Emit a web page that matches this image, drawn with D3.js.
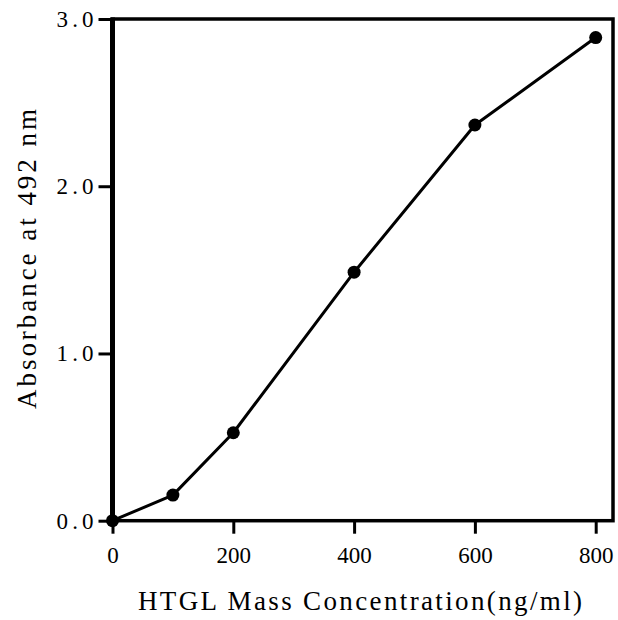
<!DOCTYPE html>
<html>
<head>
<meta charset="utf-8">
<script src="https://cdn.jsdelivr.net/npm/d3@7"></script>
<style>
  body { margin: 0; background: #fff; }
  text { font-family: "Liberation Serif", serif; fill: #000; }
</style>
</head>
<body>
<script>
"use strict";

// data
var conc = [0, 100, 200, 400, 600, 800];
var absorbance = [0.0, 0.153, 0.526, 1.486, 2.366, 2.889];
var xTicks = [0, 200, 400, 600, 800];
var yTicks = [0, 1, 2, 3];
var xTitle = "HTGL Mass Concentration(ng/ml)";
var yTitle = "Absorbance at 492 nm";

var width = 618, height = 620;
var plot = {left: 112.5, right: 613, top: 19, bottom: 520.7};

// x: 0..800 sits at 112.5..595.7, frame runs a bit beyond 800
var x = d3.scaleLinear().domain([0, 800]).range([plot.left, 595.7]);
var y = d3.scaleLinear().domain([0, 3]).range([plot.bottom, plot.top]);

var data = conc.map(function(c, i) { return {x: c, y: absorbance[i]}; });

var svg = d3.select("body").append("svg")
    .attr("width", width)
    .attr("height", height);

// frame
svg.append("rect")
    .attr("x", plot.left).attr("y", plot.top)
    .attr("width", plot.right - plot.left).attr("height", plot.bottom - plot.top)
    .attr("fill", "none").attr("stroke", "#000").attr("stroke-width", 3.5);
svg.append("line")
    .attr("x1", plot.left).attr("x2", plot.left)
    .attr("y1", plot.top - 1.5).attr("y2", plot.bottom + 1.5)
    .attr("stroke", "#000").attr("stroke-width", 5);

// x axis
var gx = svg.append("g")
    .attr("transform", "translate(0," + plot.bottom + ")")
    .call(d3.axisBottom(x).tickValues(xTicks).tickSize(13).tickSizeOuter(0).tickPadding(13));
gx.select(".domain").remove();
gx.selectAll(".tick line").attr("stroke-width", 3);
gx.selectAll(".tick text").attr("font-size", 23).attr("dy", "0.71em");

// y axis
var gy = svg.append("g")
    .attr("transform", "translate(" + plot.left + ",0)")
    .call(d3.axisLeft(y).tickValues(yTicks).tickSize(14).tickSizeOuter(0).tickPadding(5)
      .tickFormat(d3.format(".1f")));
gy.select(".domain").remove();
gy.selectAll(".tick line").attr("stroke-width", 3);
gy.selectAll(".tick text").attr("font-size", 23)
    .attr("textLength", 37).attr("lengthAdjust", "spacing");

// line
var line = d3.line()
    .x(function(d) { return x(d.x); })
    .y(function(d) { return y(d.y); });

svg.append("path")
    .datum(data)
    .attr("d", line)
    .attr("fill", "none")
    .attr("stroke", "#000")
    .attr("stroke-width", 3)
    .attr("stroke-linejoin", "round");

svg.selectAll(".pt")
    .data(data)
  .enter().append("circle")
    .attr("class", "pt")
    .attr("cx", function(d) { return x(d.x); })
    .attr("cy", function(d) { return y(d.y); })
    .attr("r", 6.5)
    .attr("fill", "#000");

// titles
svg.append("text")
    .attr("x", 138).attr("y", 610)
    .attr("font-size", 27)
    .attr("textLength", 444).attr("lengthAdjust", "spacing")
    .text(xTitle);

svg.append("text")
    .attr("transform", "translate(36,409) rotate(-90)")
    .attr("font-size", 27)
    .attr("textLength", 300).attr("lengthAdjust", "spacing")
    .text(yTitle);
</script>
</body>
</html>
